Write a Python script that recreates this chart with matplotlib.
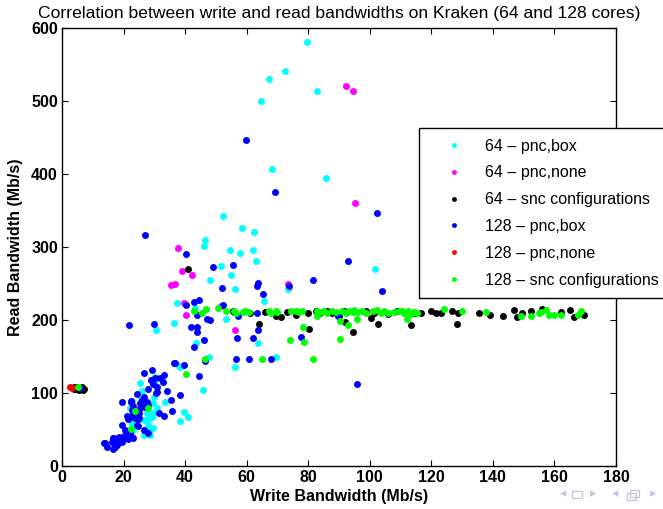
import matplotlib
matplotlib.use("Agg")
import matplotlib.pyplot as plt
from matplotlib.patches import Rectangle

plt.rcParams['font.family'] = ['Liberation Sans', 'DejaVu Sans']

title = "Correlation between write and read bandwidths on Kraken (64 and 128 cores)"
xlabel = "Write Bandwidth (Mb/s)"
ylabel = "Read Bandwidth (Mb/s)"
xticks = [0, 20, 40, 60, 80, 100, 120, 140, 160, 180]
yticks = [0, 100, 200, 300, 400, 500, 600]

labels = ["64 \u2013 pnc,box", "64 \u2013 pnc,none", "64 \u2013 snc configurations",
          "128 \u2013 pnc,box", "128 \u2013 pnc,none", "128 \u2013 snc configurations"]
colors = ["#00ffff", "#ff00ff", "#000000", "#0000ff", "#ff0000", "#00ff00"]

c64_box_x = [79.5, 72.5, 67.4, 82.8, 64.5, 68.2, 85.8, 52.4, 58.6, 62.4, 46.6, 46.1, 54.5, 62.0, 57.9,
             62.9, 51.6, 55.0, 48.2, 56.1, 65.7, 37.5, 43.3, 53.3, 101.7, 73.4, 63.6, 43.7, 69.6, 56.1,
             47.8, 25.2, 25.9, 29.2, 30.3, 30.0, 29.7, 30.8, 29.2, 27.6, 28.1, 26.5, 28.1, 28.7, 27.4,
             26.5, 29.5, 22.7, 23.8, 22.7, 23.2, 21.6, 33.6, 38.4, 38.2, 39.5, 40.8, 30.5, 45.7, 36.3,
             37.9, 29.0, 30.3, 25.6, 22.1, 29.7, 27.3, 23.8, 28.7]
c64_box_y = [581, 541, 530, 514, 500, 407, 395, 342, 326, 321, 309, 302, 296, 296, 292,
             281, 274, 262, 255, 242, 226, 223, 216, 202, 270, 242, 168, 168, 149, 135,
             149, 114, 103, 116, 122, 95, 86, 80, 67, 72, 65, 63, 56, 49, 45,
             42, 52, 89, 70, 58, 49, 40, 88, 136, 62, 74, 67, 186, 104, 196,
             137, 118, 112, 91, 79, 72, 45, 68, 42]

c64_none_x = [92.4, 94.5, 95.3, 37.8, 39.0, 42.3, 36.6, 35.3, 73.3, 39.5, 51.7, 40.3, 56.2]
c64_none_y = [520, 514, 360, 298, 267, 262, 249, 248, 249, 223, 219, 207, 186]

c64_snc_x = [3.5, 4.2, 4.8, 5.5, 6.0, 6.5, 7.0, 5.0, 4.0, 6.8, 5.8, 3.8, 41.1,
             55.5, 56.0, 61.0, 65.8, 69.4, 71.2, 73.2, 75.9, 76.4, 80.0, 82.4, 83.8, 86.2, 87.6,
             90.0, 91.6, 98.7, 100.3, 101.4, 105.8, 109.0, 114.4, 116.6, 120.0, 121.6, 123.3,
             126.7, 128.8, 135.5, 139.1, 143.3, 146.7, 147.9, 149.3, 152.5, 155.8, 162.2, 165.1,
             166.3, 169.7, 64.0, 80.2, 94.6, 92.0, 102.8, 113.4, 128.4]
c64_snc_y = [107, 105, 106, 104, 107, 108, 106, 108, 108, 104, 106, 106, 270,
             212, 211, 209, 211, 205, 204, 211, 207, 211, 210, 213, 210, 213, 210,
             205, 213, 213, 203, 210, 208, 213, 210, 210, 212, 210, 209,
             212, 209, 210, 207, 205, 214, 204, 210, 212, 215, 211, 214,
             204, 207, 195, 188, 184, 197, 195, 193, 194]

c128_box_x = [59.9, 69.2, 102.5, 26.9, 92.9, 81.6, 73.7, 104.1, 40.4, 55.7, 49.1, 52.0, 63.7, 63.3,
              65.3, 40.4, 42.9, 44.5, 52.4, 44.0, 47.0, 48.2, 57.1, 63.3, 89.7, 42.0, 44.0, 44.0,
              63.6, 56.7, 62.0, 46.1, 42.9, 77.5, 46.6, 56.5, 60.8, 67.8, 39.5, 36.6, 44.5, 96.0,
              21.9, 30.0, 5.8,
              13.5, 14.5, 16.5, 16.5, 17.3, 18.3, 19.4, 20.2, 21.1, 22.1, 23.0, 19.4, 20.5, 21.1,
              21.6, 22.7, 23.2, 19.5, 22.4, 24.5, 25.4, 25.9, 26.5, 27.8, 27.6, 28.1, 29.3, 29.5,
              30.3, 30.8, 30.8, 31.9, 32.8, 33.2, 31.6, 33.2, 26.5, 28.1, 34.1, 35.4, 35.7, 36.5,
              38.2, 23.0, 24.3, 24.6, 28.9, 26.5, 30.7, 22.5, 25.2, 26.8, 27.0, 24.9, 21.9, 23.6,
              25.1, 24.6, 22.7, 20.3, 18.4, 16.7, 14.0, 16.2, 17.8, 19.4, 21.6, 22.2, 17.3]
c128_box_y = [446, 376, 346, 316, 281, 255, 246, 240, 291, 276, 272, 244, 251, 246,
              235, 220, 225, 227, 221, 207, 201, 200, 206, 209, 205, 191, 190, 184,
              186, 176, 176, 172, 163, 177, 144, 146, 147, 146, 139, 141, 123, 113,
              193, 195, 107,
              32, 26, 23, 38, 31, 38, 33, 39, 41, 47, 39, 56, 49, 68,
              64, 77, 82, 88, 88, 99, 79, 90, 127, 105, 88, 84, 132, 113,
              120, 102, 108, 120, 115, 125, 72, 68, 49, 45, 103, 91, 76, 141,
              97, 72, 56, 65, 118, 95, 100, 89, 86, 90, 81, 72, 66, 66,
              66, 55, 40, 41, 40, 38, 32, 33, 29, 36, 37, 42, 26]

c128_none_x = [2.7, 3.1]
c128_none_y = [108.6, 107.5]

c128_snc_x = [5.3, 23.7, 22.4, 27.8, 40.4, 46.6, 74.1, 78.7, 90.3, 81.6, 64.9, 78.2, 90.3, 92.8, 112.0,
              42.8, 45.4, 46.7, 50.8, 53.3, 55.8, 56.4, 58.7, 59.6, 60.7, 67.2, 67.8, 69.4, 69.9,
              74.3, 75.9, 77.0, 78.1, 83.0, 84.0, 85.1, 86.2, 87.8, 88.9, 91.1, 92.2, 93.3, 94.4,
              94.9, 96.0, 97.6, 98.7, 100.9, 102.5, 103.6, 104.7, 105.8, 107.9, 109.5, 111.2, 112.3,
              114.4, 115.5, 113.5, 110.5, 124.2, 130.1, 137.9, 149.2, 152.5, 154.9, 155.6, 157.4,
              158.3, 159.7, 162.1, 167.5, 168.5, 83.0, 95.8]
c128_snc_y = [108.6, 76, 51, 80, 126, 147, 173, 170, 174, 146, 146, 191, 198, 193, 201,
              213, 209, 215, 216, 212, 212, 210, 211, 213, 211, 212, 210, 212, 211,
              212, 213, 211, 212, 213, 211, 212, 210, 213, 211, 212, 210, 213, 211,
              214, 211, 212, 209, 212, 214, 210, 212, 209, 211, 212, 210, 212,
              211, 209, 208, 213, 215, 212, 211, 205, 205, 209, 211, 214,
              207, 207, 207, 207, 212, 205, 201]

series = [(c64_box_x, c64_box_y), (c64_none_x, c64_none_y), (c64_snc_x, c64_snc_y),
          (c128_box_x, c128_box_y), (c128_none_x, c128_none_y), (c128_snc_x, c128_snc_y)]

fig = plt.figure(figsize=(6.63, 5.09), dpi=100)
ax = fig.add_axes([62/663, 1 - 466/509, (616 - 62)/663, (466 - 28)/509])

handles = []
for (xs, ys), col, lab in zip(series, colors, labels):
    h, = ax.plot(xs, ys, 'o', color=col, markersize=5.0, markeredgewidth=0, label=lab, clip_on=False)
    handles.append(h)

ax.set_xlim(0, 180)
ax.set_ylim(0, 600)
ax.set_xticks(xticks)
ax.set_yticks(yticks)
ax.tick_params(direction='in', top=True, right=True, length=4, width=0.8, labelsize=11.5, pad=3)
for lab in ax.get_xticklabels() + ax.get_yticklabels():
    lab.set_fontweight('bold')
for s in ax.spines.values():
    s.set_linewidth(1.0)

ax.set_title(title, fontsize=12.6, pad=7)
ax.set_xlabel(xlabel, fontsize=11.5, fontweight='bold', labelpad=3)
ax.set_ylabel(ylabel, fontsize=11.5, fontweight='bold', labelpad=6)

leg = fig.legend(handles=handles, labels=labels, loc='upper left',
                 bbox_to_anchor=(419/663, 1 - 128/509), fontsize=11.5,
                 frameon=True, fancybox=False, shadow=False, framealpha=1,
                 edgecolor='black', handlelength=3.0, handletextpad=0.45,
                 labelspacing=0.74, borderpad=0.66, borderaxespad=0, markerscale=0.7)
leg.get_frame().set_linewidth(1.0)

# beamer navigation symbols
navc = '#c6c6e3'
for xp, sym in [(563, '\u25c2'), (593, '\u25b8'), (615, '\u25c2'), (653, '\u25b8')]:
    fig.text(xp/663, 1 - 494/509, sym, color=navc, fontsize=9, ha='center', va='center',
             family='DejaVu Sans')
fig.patches.append(Rectangle((572/663, 1 - 498/509), 10/663, 7/509, fill=False,
                             edgecolor=navc, lw=1.0, transform=fig.transFigure))
fig.patches.append(Rectangle((627/663, 1 - 500/509), 9/663, 7/509, fill=False,
                             edgecolor=navc, lw=1.0, transform=fig.transFigure))
fig.patches.append(Rectangle((630/663, 1 - 497/509), 9/663, 7/509, fill=False,
                             edgecolor=navc, lw=1.0, transform=fig.transFigure))

fig.savefig("out.png", dpi=100)
